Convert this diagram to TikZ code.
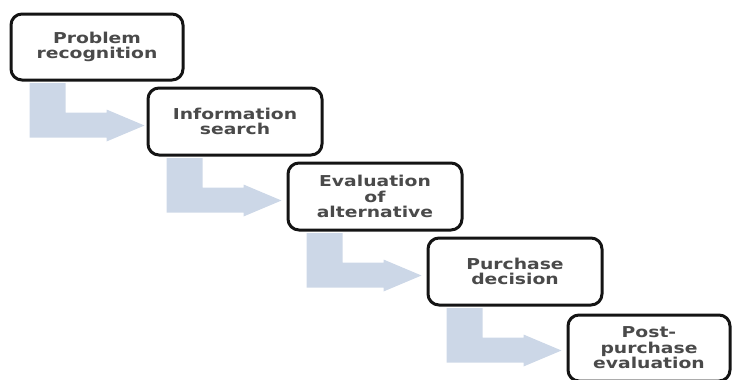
\documentclass[tikz,border=0pt]{standalone}
\usepackage{fontspec}
\newfontfamily\boxfont[FakeStretch=1.25]{DejaVu Sans}
\definecolor{arrowc}{HTML}{CCD7E7}
\definecolor{txtc}{HTML}{4A4A4A}
\begin{document}
\begin{tikzpicture}[x=1pt,y=-1pt,
  stage/.style={draw=black!92, line width=3pt, rounded corners=11pt, fill=white,
    align=center, inner sep=0pt, text=txtc,
    font=\boxfont\bfseries\fontsize{15}{15.5}\selectfont},
  wide/.style={minimum width=174pt, minimum height=67pt}]
\useasboundingbox (0,0) rectangle (736,380);
\node[stage, minimum width=172pt, minimum height=66pt] (b1) at (97,47) {Problem\\recognition};
\node[stage, wide] (b2) at (235,121.5) {Information\\search};
\node[stage, wide] (b3) at (375,196.5) {Evaluation\\of\\alternative};
\node[stage, wide] (b4) at (515,271.5) {Purchase\\decision};
\node[stage, minimum width=162pt, minimum height=66pt] (b5) at (649,348) {Post-\\purchase\\evaluation};
\foreach \a/\b in {b1/b2,b2/b3,b3/b4,b4/b5}{
  \begin{scope}[shift={(\a.south west)}]
    \fill[arrowc] (20,1.5) -- (56,1.5) -- (56,31) -- (97,31) -- (97,28)
      -- (135,44) -- (97,60) -- (97,56) -- (20,56) -- cycle;
  \end{scope}
}
\end{tikzpicture}
\end{document}
